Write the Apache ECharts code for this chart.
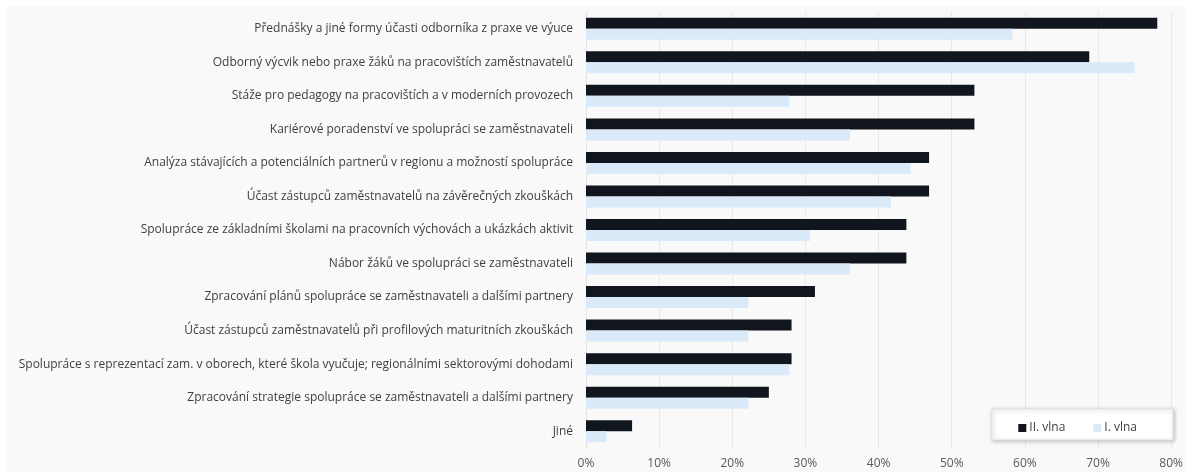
<!DOCTYPE html>
<html>
<head>
<meta charset="utf-8">
<script src="https://cdn.jsdelivr.net/npm/echarts@6/dist/echarts.min.js"></script>
<style>html,body{margin:0;padding:0;background:#fff}#c{width:1186px;height:472px}</style>
</head>
<body>
<div id="c"></div>
<script>
const categories = [
  "Přednášky a jiné formy účasti odborníka z praxe ve výuce",
  "Odborný výcvik nebo praxe žáků na pracovištích zaměstnavatelů",
  "Stáže pro pedagogy na pracovištích a v moderních provozech",
  "Kariérové poradenství ve spolupráci se zaměstnavateli",
  "Analýza stávajících a potenciálních partnerů v regionu a možností spolupráce",
  "Účast zástupců zaměstnavatelů na závěrečných zkouškách",
  "Spolupráce ze základními školami na pracovních výchovách a ukázkách aktivit",
  "Nábor žáků ve spolupráci se zaměstnavateli",
  "Zpracování plánů spolupráce se zaměstnavateli a dalšími partnery",
  "Účast zástupců zaměstnavatelů při profilových maturitních zkouškách",
  "Spolupráce s reprezentací zam. v oborech, které škola vyučuje; regionálními sektorovými dohodami",
  "Zpracování strategie spolupráce se zaměstnavateli a dalšími partnery",
  "Jiné"
];
const wave2 = [78.1, 68.8, 53.1, 53.1, 46.9, 46.9, 43.8, 43.8, 31.3, 28.1, 28.1, 25.0, 6.3];
const wave1 = [58.3, 75.0, 27.8, 36.1, 44.4, 41.7, 30.6, 36.1, 22.2, 22.2, 27.8, 22.2, 2.8];
const seriesNames = ["II. vlna", "I. vlna"];
const xTicks = [0, 10, 20, 30, 40, 50, 60, 70, 80];

const chart = echarts.init(document.getElementById('c'), null, {renderer: 'canvas'});
const font = "'Open Sans', 'Noto Sans', sans-serif";
chart.setOption({
  backgroundColor: '#ffffff',
  animation: false,
  graphic: [{
    type: 'rect', z: -10, silent: true,
    shape: {x: 7, y: 7, width: 1179, height: 465},
    style: {fill: '#f9f9f9'}
  }, {
    type: 'rect', z: 5, silent: true,
    shape: {x: 992, y: 409, width: 181, height: 31},
    style: {fill: '#ffffff', stroke: '#e2e2e2', lineWidth: 1, shadowBlur: 4, shadowColor: 'rgba(0,0,0,0.25)', shadowOffsetX: 1, shadowOffsetY: 1}
  }],
  grid: {left: 586, right: 13, top: 12, bottom: 24, containLabel: false},
  legend: {
    data: seriesNames,
    right: 44, top: 417,
    itemWidth: 8, itemHeight: 8, itemGap: 28,
    icon: 'rect',
    z: 6,
    textStyle: {fontFamily: font, fontSize: 12, color: '#404040', padding: [0, 0, 0, -2]}
  },
  xAxis: {
    type: 'value', min: 0, max: 80, interval: 10,
    axisLabel: {formatter: v => xTicks.includes(v) ? v + '%' : '', fontFamily: font, fontSize: 12, color: '#595959', margin: 10},
    splitLine: {show: true, lineStyle: {color: '#e9e9e9', width: 1}},
    axisLine: {show: false}, axisTick: {show: false}
  },
  yAxis: {
    type: 'category', data: categories, inverse: true,
    axisLabel: {fontFamily: font, fontSize: 12, color: '#404040', margin: 13},
    axisLine: {show: true, lineStyle: {color: '#e3e3e3'}},
    axisTick: {show: false}
  },
  series: [{
    name: seriesNames[0], type: 'bar', data: wave2,
    barWidth: 11, barGap: '0%',
    itemStyle: {color: '#11151d'}
  }, {
    name: seriesNames[1], type: 'bar', data: wave1,
    barWidth: 11, barGap: '0%',
    itemStyle: {color: '#daeaf8'}
  }]
});
</script>
</body>
</html>
